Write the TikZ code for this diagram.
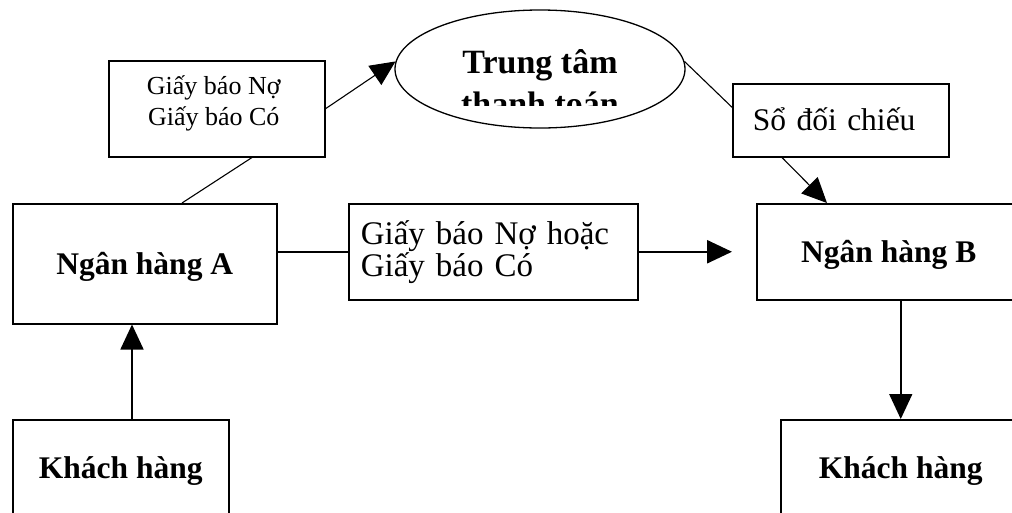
\documentclass[tikz,border=0pt]{standalone}
\usepackage{fontspec}
\setmainfont{Liberation Serif}
\usetikzlibrary{shapes.geometric,arrows.meta,calc}
\begin{document}
\begin{tikzpicture}[x=1pt,y=-1pt,
  box/.style={draw,line width=1.5pt,rectangle,anchor=north west,inner sep=0pt},
  bt/.style={font=\bfseries\fontsize{31.5}{36}\selectfont,text height=22pt,text depth=0pt},
  thinline/.style={line width=1.1pt},
  tip/.style={-{Triangle[length=25pt,width=23pt]}},
]
\useasboundingbox (0,0) rectangle (1012,512);
\clip (0,0) rectangle (1012,512);
% boxes
\node[box,minimum width=216pt,minimum height=96pt,
  label={[align=center,font=\fontsize{26}{31}\selectfont,xshift=-3pt,yshift=5pt]center:Giấy báo Nợ\\Giấy báo Có}] (gb) at (108,60) {};
\node[draw,ellipse,line width=1.3pt,minimum width=290pt,minimum height=118pt,inner sep=0pt] (ttt) at (540,69) {};
\begin{scope}
\clip (395,0) rectangle (685,105);
\node[font=\bfseries\fontsize{34}{40}\selectfont,anchor=base] (t1) at (540,73) {Trung tâm};
\node[font=\bfseries\fontsize{34}{40}\selectfont,anchor=base] (t2) at (540,115) {thanh toán};
\end{scope}
\node[box,minimum width=216pt,minimum height=73pt,text width=176pt,inner xsep=20pt,align=left,font=\fontsize{31.5}{36}\selectfont,text height=21pt,text depth=0pt] (sdc) at (732,83) {Sổ đối chiếu};
\node[box,bt,minimum width=264pt,minimum height=120pt] (nha) at (12,203) {Ngân hàng A};
\node[box,minimum width=289pt,minimum height=96pt,text width=265pt,inner xsep=12pt,align=left,font=\fontsize{33}{32}\selectfont] (mid) at (348,203) {Giấy báo Nợ hoặc\\Giấy báo Có};
\node[box,bt,minimum width=264pt,minimum height=96pt] (nhb) at (756,203) {Ngân hàng B};
\node[box,bt,minimum width=216pt,minimum height=96pt] (kha) at (12,419) {Khách hàng};
\node[box,bt,minimum width=240pt,minimum height=96pt] (khb) at (780,419) {Khách hàng};
% connectors
\draw[thinline] ([xshift=170pt]nha.north west) -- ([xshift=144pt]gb.south west);
\draw[thinline,tip] (gb.east) -- (ttt.177);
\draw[thinline] (ttt.3) -- ([yshift=13pt]sdc.west);
\draw[thinline,tip] ([xshift=50pt]sdc.south west) -- ([xshift=71pt]nhb.north west);
\draw[line width=2.5pt] (nha.east |- mid.west) -- (mid.west);
\coordinate (mtip) at ([xshift=-24pt]nhb.west);
\draw[line width=2.5pt,tip] (mid.east) -- (mtip);
\coordinate (kup) at ([xshift=120pt]kha.north west);
\draw[line width=1.5pt,tip] (kup) -- (kup |- nha.south);
\draw[line width=1.5pt,tip] (khb.north |- nhb.south) -- (khb.north);
\end{tikzpicture}
\end{document}
